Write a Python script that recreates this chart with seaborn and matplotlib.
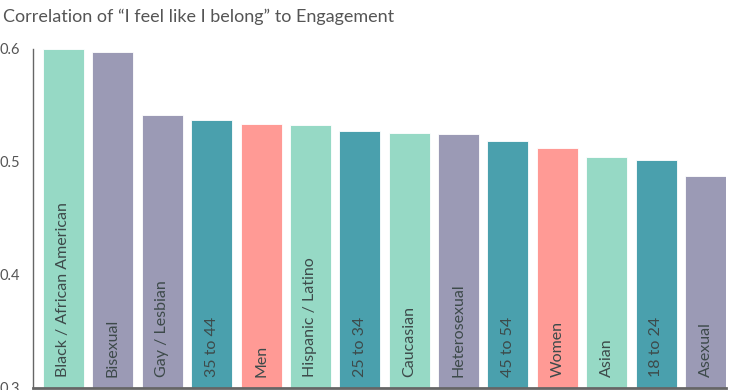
import pandas as pd
import numpy as np
import matplotlib
matplotlib.use("Agg")
import matplotlib.pyplot as plt
import seaborn as sns

groups = ["Black / African American", "Bisexual", "Gay / Lesbian", "35 to 44", "Men",
          "Hispanic / Latino", "25 to 34", "Caucasian", "Heterosexual", "45 to 54",
          "Women", "Asian", "18 to 24", "Asexual"]
corr = [0.600, 0.597, 0.542, 0.537, 0.534, 0.533, 0.527, 0.526, 0.525, 0.519,
        0.512, 0.504, 0.502, 0.488]
kind = ["race", "orientation", "orientation", "age", "gender", "race", "age", "race",
        "orientation", "age", "gender", "race", "age", "orientation"]
kind_colors = {"race": "#96d9c5", "orientation": "#9b9ab5", "age": "#4aa0ad", "gender": "#ff9a95"}

df = pd.DataFrame({"group": groups, "corr": corr, "kind": kind})

sns.set_style("white")
plt.rcParams["font.family"] = ["Lato", "DejaVu Sans"]

fig = plt.figure(figsize=(7.5, 3.9), dpi=100)
ax = fig.add_axes([33 / 750, 2 / 390, (726 - 33) / 750, 386 / 390])

sns.barplot(data=df, x="group", y="corr", hue="kind", palette=kind_colors,
            dodge=False, width=0.83, legend=False, ax=ax, saturation=1,
            edgecolor="white", linewidth=0.6)

# 0.3 sits at the bottom edge, 0.6 about 47 px below the top
ylo, yhi = 0.3, 0.6
pix = (yhi - ylo) / (388 - 49)
ax.set_ylim(ylo, yhi + pix * 47)
ax.set_xlim(-0.617, len(groups) - 1 + 0.415)

ax.set_yticks([0.3, 0.4, 0.5, 0.6])
ax.set_yticklabels(["0.3", "0.4", "0.5", "0.6"], color="#555555", fontsize=10.5)
ax.tick_params(axis="y", length=6, width=1, color="#666666", direction="out", pad=3)
ax.tick_params(axis="x", length=0, labelbottom=False)
ax.set_xlabel("")
ax.set_ylabel("")

for side in ["top", "right"]:
    ax.spines[side].set_visible(False)
ax.spines["left"].set_color("#666666")
ax.spines["left"].set_linewidth(1)
ax.spines["left"].set_bounds(0.3, 0.6)
ax.spines["bottom"].set_color("#666666")
ax.spines["bottom"].set_linewidth(2)

for i, g in enumerate(groups):
    ax.text(i, 0.3 + pix * 11, g, rotation=90, ha="center", va="bottom",
            fontsize=11.5, color="#3d4a4a")

fig.text(3 / 750, 1 - 17 / 390, "Correlation of \u201cI feel like I belong\u201d to Engagement",
         fontsize=13, color="#555555", va="center", ha="left")

fig.savefig("out.png", dpi=100)
